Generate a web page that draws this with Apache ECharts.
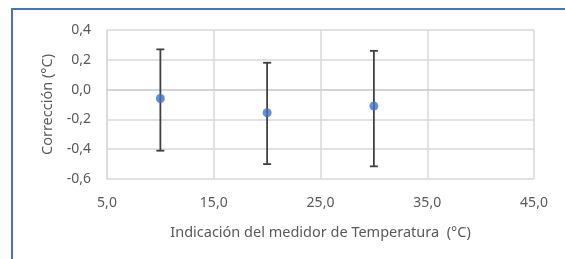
<!DOCTYPE html>
<html>
<head>
<meta charset="utf-8">
<script src="https://cdn.jsdelivr.net/npm/echarts@6/dist/echarts.min.js"></script>
<style>
  html, body { margin: 0; padding: 0; background: #fff; }
  .wrap { position: relative; width: 565px; height: 259px; overflow: hidden; }
  .frame {
    position: absolute; left: 11px; top: 8px; width: 600px; height: 300px;
    border-left: 2px solid #4a72c0; border-top: 2px solid #4a72c0;
  }
  #myChart { position: absolute; left: 0; top: 0; width: 565px; height: 259px; }
</style>
</head>
<body>
<div class="wrap">
  <div class="frame"></div>
  <div id="myChart"></div>
</div>
<script>
// valores
var temps = [10, 20, 30];
var correccion = [-0.06, -0.155, -0.11];
var errLow = [-0.41, -0.50, -0.515];
var errHigh = [0.27, 0.18, 0.26];

var fmt = function (v) { return v.toFixed(1).replace('.', ','); };
var txt = '#595959';
var font = 'Noto Sans';

var pts = temps.map(function (t, i) { return [t, correccion[i]]; });
var bars = temps.map(function (t, i) { return [t, errLow[i], errHigh[i]]; });

var myChart = echarts.init(document.getElementById('myChart'));
myChart.setOption({
  animation: false,
  grid: { left: 107, top: 30, right: 31, bottom: 80 },
  xAxis: {
    type: 'value', min: 5, max: 45, interval: 10,
    name: 'Indicación del medidor de Temperatura  (°C)',
    nameLocation: 'middle', nameGap: 46,
    nameTextStyle: { color: txt, fontSize: 14.5, fontFamily: font },
    axisLine: { show: true, lineStyle: { color: '#d0d0d0', width: 1.5 } },
    axisTick: { show: false },
    axisLabel: { color: txt, fontSize: 14, fontFamily: font, margin: 17, formatter: fmt },
    splitLine: { show: true, lineStyle: { color: '#d9d9d9', width: 1.5 } }
  },
  yAxis: {
    type: 'value', min: -0.6, max: 0.4, interval: 0.2,
    name: 'Corrección (°C)',
    nameLocation: 'middle', nameGap: 50,
    nameTextStyle: { color: txt, fontSize: 14.5, fontFamily: font },
    axisLine: { show: true, lineStyle: { color: '#d9d9d9', width: 1.5 } },
    axisTick: { show: false },
    axisLabel: { color: txt, fontSize: 14, fontFamily: font, margin: 16, formatter: fmt },
    splitLine: { show: true, lineStyle: { color: '#d9d9d9', width: 1.5 } }
  },
  series: [
    {
      type: 'custom',
      data: bars,
      z: 2,
      renderItem: function (params, api) {
        var top = api.coord([api.value(0), api.value(2)]);
        var bot = api.coord([api.value(0), api.value(1)]);
        var w = 4;
        var st = { stroke: '#404040', lineWidth: 1.8 };
        return {
          type: 'group',
          children: [
            { type: 'line', shape: { x1: top[0], y1: top[1], x2: bot[0], y2: bot[1] }, style: st },
            { type: 'line', shape: { x1: top[0] - w, y1: top[1], x2: top[0] + w, y2: top[1] }, style: st },
            { type: 'line', shape: { x1: bot[0] - w, y1: bot[1], x2: bot[0] + w, y2: bot[1] }, style: st }
          ]
        };
      }
    },
    {
      type: 'scatter',
      data: pts,
      z: 3,
      symbolSize: 9,
      itemStyle: { color: '#4472c4' }
    }
  ]
});
</script>
</body>
</html>
